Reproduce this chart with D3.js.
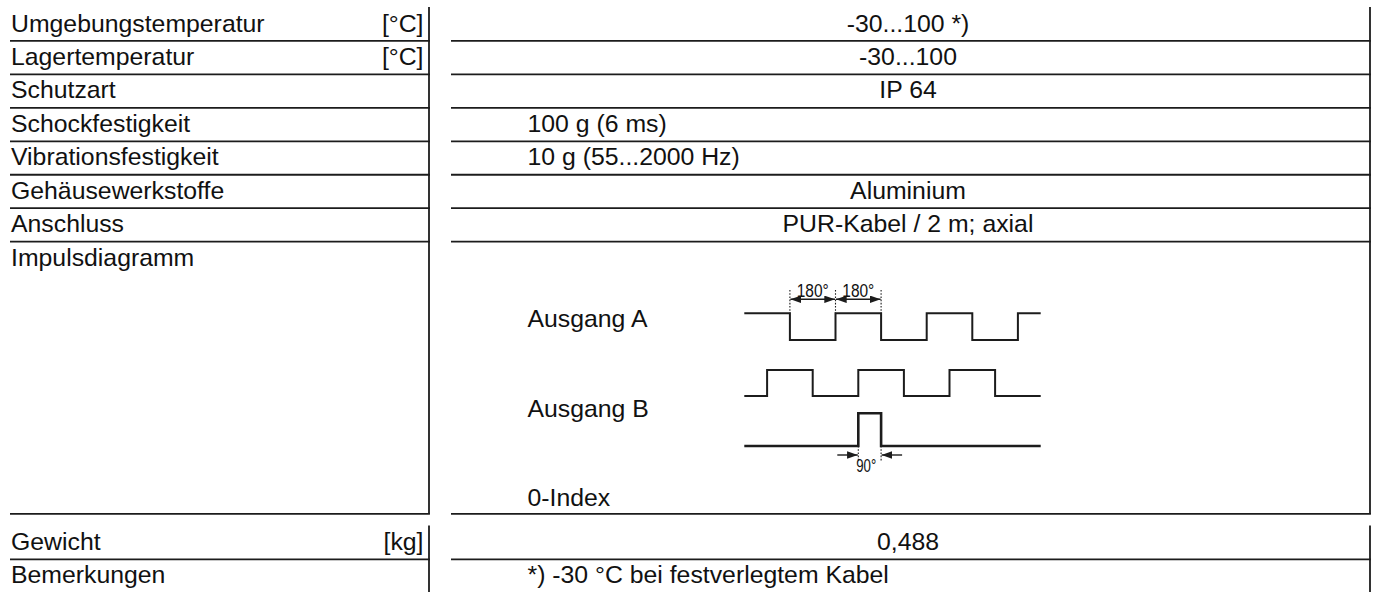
<!DOCTYPE html>
<html>
<head>
<meta charset="utf-8">
<script src="https://cdn.jsdelivr.net/npm/d3@7"></script>
<style>
  html, body { margin: 0; padding: 0; background: #fff; }
  svg { display: block; }
  text { font-family: "Liberation Sans", Arial, sans-serif; fill: #111; }
</style>
</head>
<body>
<svg id="chart" width="1377" height="592"></svg>
<script>
// ---------- data ----------
const labels = ["Umgebungstemperatur", "Lagertemperatur", "Schutzart", "Schockfestigkeit",
  "Vibrationsfestigkeit", "Gehäusewerkstoffe", "Anschluss", "Impulsdiagramm", "Gewicht", "Bemerkungen"];
const units = ["[°C]", "[°C]", "", "", "", "", "", "", "[kg]", ""];
const values = ["-30...100 *)", "-30...100", "IP 64", "100 g (6 ms)", "10 g (55...2000 Hz)",
  "Aluminium", "PUR-Kabel / 2 m; axial", "", "0,488", "*) -30 °C bei festverlegtem Kabel"];
const leftAlignedValues = ["100 g (6 ms)", "10 g (55...2000 Hz)", "*) -30 °C bei festverlegtem Kabel"];
const rowSpans = [1, 1, 1, 1, 1, 1, 1, 8.14, 1, 1];   // row heights in units of a standard row
const signalNames = ["Ausgang A", "Ausgang B", "0-Index"];
// pulse diagram: phase in electrical degrees, level 1 = high
const phaseA = [0, 180, 360, 540, 720, 900, 1080, 1170];
const levelA = [1, 0, 1, 0, 1, 0, 1, 1];
const phaseB = [0, 90, 270, 450, 630, 810, 990, 1170];
const levelB = [0, 1, 0, 1, 0, 1, 0, 0];
const phaseZ = [0, 450, 540, 1170];
const levelZ = [0, 1, 0, 0];
const dims180 = [[180, 360], [360, 540]];
const dim90 = [450, 540];
const dimLabels = ["180°", "180°", "90°"];

// ---------- layout ----------
const svg = d3.select("#chart");
const ink = "#1c1c1c";
const fs = 24.8;
const rowH = 33.45;
const top1 = 7.5;
const gapAfter = 7;     // section break after Impulsdiagramm
const gapSize = 12;

const rowTop = [];
let yAcc = top1;
rowSpans.forEach((s, i) => {
  rowTop.push(yAcc);
  yAcc += s * rowH;
  if (i === gapAfter) yAcc += gapSize;
});
const rowBottom = rowTop.map((t, i) => t + rowSpans[i] * rowH);

const leftX0 = 10, leftX1 = 429, rightX0 = 451, rightX1 = 1370;
const valueCenter = 908, valueLeft = 527.5;

const g = svg.append("g");

const sections = [[0, 7], [8, 9]];
sections.forEach(([a, b]) => {
  const y0 = rowTop[a] - 0.5;
  const y1 = b === 9 ? 600 : rowBottom[b];
  g.append("line").attr("x1", leftX1).attr("x2", leftX1).attr("y1", y0).attr("y2", y1)
    .attr("stroke", ink).attr("stroke-width", 1.8);
  g.append("line").attr("x1", rightX1).attr("x2", rightX1).attr("y1", y0).attr("y2", y1)
    .attr("stroke", ink).attr("stroke-width", 1.8);
});

labels.forEach((lab, i) => {
  if (i === labels.length - 1) return;
  const y = rowBottom[i];
  g.append("line").attr("x1", leftX0).attr("x2", leftX1 + 0.9).attr("y1", y).attr("y2", y)
    .attr("stroke", ink).attr("stroke-width", 1.8);
  g.append("line").attr("x1", rightX0).attr("x2", rightX1 + 0.9).attr("y1", y).attr("y2", y)
    .attr("stroke", ink).attr("stroke-width", 1.8);
});

labels.forEach((lab, i) => {
  const base = rowTop[i] + 24;
  g.append("text").attr("x", 11).attr("y", base).attr("font-size", fs).text(lab);
  if (units[i]) g.append("text").attr("x", 423.5).attr("y", base).attr("font-size", fs)
    .attr("text-anchor", "end").text(units[i]);
  if (values[i]) {
    const left = leftAlignedValues.includes(values[i]);
    g.append("text").attr("x", left ? valueLeft : valueCenter).attr("y", base)
      .attr("font-size", fs).attr("text-anchor", left ? "start" : "middle").text(values[i]);
  }
});

// ---------- pulse diagram ----------
const x = d3.scaleLinear().domain([0, 1170]).range([744.3, 1040.7]);
const yA = d3.scaleLinear().domain([0, 1]).range([340, 313.3]);
const yB = d3.scaleLinear().domain([0, 1]).range([396, 370]);
const yZ = d3.scaleLinear().domain([0, 1]).range([446, 413.3]);

const sigBaselines = [327.3, 416.7, 506];
signalNames.forEach((n, i) => {
  g.append("text").attr("x", valueLeft).attr("y", sigBaselines[i]).attr("font-size", fs).text(n);
});

function drawSignal(ph, lv, ys, w) {
  const line = d3.line().x((d, i) => x(ph[i])).y(d => ys(d)).curve(d3.curveStepAfter);
  g.append("path").attr("d", line(lv)).attr("fill", "none").attr("stroke", ink)
    .attr("stroke-width", w).attr("stroke-linejoin", "miter").attr("stroke-linecap", "butt");
}
drawSignal(phaseA, levelA, yA, 2);
drawSignal(phaseB, levelB, yB, 2);
drawSignal(phaseZ, levelZ, yZ, 2.6);

const defs = svg.append("defs");
defs.append("marker").attr("id", "arr").attr("markerUnits", "userSpaceOnUse")
  .attr("viewBox", "0 0 10 7").attr("refX", 10).attr("refY", 3.5)
  .attr("markerWidth", 11).attr("markerHeight", 7.5).attr("orient", "auto-start-reverse")
  .append("path").attr("d", "M0,0 L10,3.5 L0,7 Z").attr("fill", ink);

const dimY = 299.3;
const extTop = 290;
[180, 360, 540].forEach(p => {
  g.append("line").attr("x1", x(p)).attr("x2", x(p)).attr("y1", extTop).attr("y2", yA(1))
    .attr("stroke", ink).attr("stroke-width", 1.1).attr("stroke-dasharray", "1.6,1.6");
});
dims180.forEach(([a, b], i) => {
  g.append("line").attr("x1", x(a) + 0.5).attr("x2", x(b) - 0.5).attr("y1", dimY).attr("y2", dimY)
    .attr("stroke", ink).attr("stroke-width", 1.4)
    .attr("marker-start", "url(#arr)").attr("marker-end", "url(#arr)");
  g.append("text").attr("x", (x(a) + x(b)) / 2).attr("y", 296.5).attr("font-size", 18)
    .attr("text-anchor", "middle").attr("textLength", 32).attr("lengthAdjust", "spacingAndGlyphs")
    .text(dimLabels[i]);
});

const dim90Y = 455;
dim90.forEach(p => {
  g.append("line").attr("x1", x(p)).attr("x2", x(p)).attr("y1", yZ(0)).attr("y2", 462)
    .attr("stroke", ink).attr("stroke-width", 1.1).attr("stroke-dasharray", "1.6,1.6");
});
g.append("line").attr("x1", x(dim90[0]) - 21).attr("x2", x(dim90[0]) - 0.5)
  .attr("y1", dim90Y).attr("y2", dim90Y).attr("stroke", ink).attr("stroke-width", 1.4)
  .attr("marker-end", "url(#arr)");
g.append("line").attr("x1", x(dim90[1]) + 21).attr("x2", x(dim90[1]) + 0.5)
  .attr("y1", dim90Y).attr("y2", dim90Y).attr("stroke", ink).attr("stroke-width", 1.4)
  .attr("marker-end", "url(#arr)");
g.append("text").attr("x", (x(dim90[0]) + x(dim90[1])) / 2 - 3.5).attr("y", 472).attr("font-size", 18)
  .attr("text-anchor", "middle").attr("textLength", 20).attr("lengthAdjust", "spacingAndGlyphs")
  .text(dimLabels[2]);
</script>
</body>
</html>
